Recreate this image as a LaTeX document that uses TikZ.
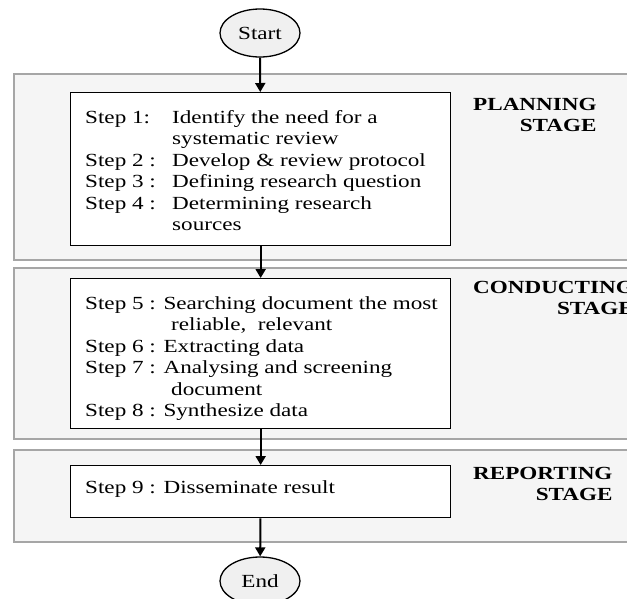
\documentclass[tikz,border=0pt]{standalone}
\usepackage{fontspec}
\setmainfont{Liberation Serif}[FakeStretch=1.25]
\usetikzlibrary{arrows.meta,shapes.geometric}
\newcommand{\bodyfont}{\fontsize{18.5}{21.5}\selectfont}
\begin{document}
\begin{tikzpicture}[x=1pt,y=-1pt,
  band/.style={draw=black!35, fill=black!4, line width=1.5pt, anchor=north west, inner sep=0pt},
  stepbox/.style={draw=black, fill=white, line width=1.3pt, anchor=north west, inner sep=0pt, minimum width=380pt},
  term/.style={ellipse, draw=black, fill=black!6, line width=1.3pt, minimum width=80pt, minimum height=48pt, inner sep=0pt, font=\bodyfont},
  txt/.style={anchor=base west, inner sep=0pt, font=\bodyfont},
  lbl/.style={anchor=base west, inner sep=0pt, font=\bodyfont\bfseries},
  lblb/.style={anchor=base east, inner sep=0pt, font=\bodyfont\bfseries},
  flow/.style={line width=2pt, -{Triangle[length=9pt,width=10pt]}}
]
\useasboundingbox (0,0) rectangle (627,598);
\clip (0,0) rectangle (627,598);
\fill[white] (0,0) rectangle (627,598);

% stage bands
\node[band, minimum width=627pt, minimum height=186pt] (bandP) at (13,73) {};
\node[band, minimum width=627pt, minimum height=171pt] (bandC) at (13,267) {};
\node[band, minimum width=627pt, minimum height=92pt] (bandR) at (13,449) {};

% step boxes
\node[stepbox, minimum height=153pt] (boxP) at (70,92) {};
\node[stepbox, minimum height=150pt] (boxC) at (70,278) {};
\node[stepbox, minimum height=52pt] (boxR) at (70,465) {};

% terminals
\node[term] (start) at (260,33) {Start};
\node[term] (end) at (260,581) {End};

% connectors
\draw[flow] (start) -- (boxP);
\draw[flow] (boxP) -- (boxC);
\draw[flow] (boxC) -- (boxR);
\draw[flow] (boxR) -- (end);

% planning text
\node[txt] (s1) at (85,123) {Step 1:};
\node[txt] (t1) at (172,123) {Identify the need for a};
\node[txt] (t1b) at (172,144.5) {systematic review};
\node[txt] (s2) at (85,166) {Step 2 :};
\node[txt] (t2) at (172,166) {Develop \& review protocol};
\node[txt] (s3) at (85,187.5) {Step 3 :};
\node[txt] (t3) at (172,187.5) {Defining research question};
\node[txt] (s4) at (85,209) {Step 4 :};
\node[txt] (t4) at (172,209) {Determining research};
\node[txt] (t4b) at (172,230.5) {sources};

% conducting text
\node[txt] (s5) at (85,309) {Step 5 : Searching document the most};
\node[txt] (t5b) at (171,330.5) {reliable,\ \ relevant};
\node[txt] (s6) at (85,352) {Step 6 : Extracting data};
\node[txt] (s7) at (85,373.5) {Step 7 : Analysing and screening};
\node[txt] (t7b) at (171,395) {document};
\node[txt] (s8) at (85,416.5) {Step 8 : Synthesize data};

% reporting text
\node[txt] (s9) at (85,493) {Step 9 : Disseminate result};

% stage labels
\node[lbl] (lp1) at (473,110) {PLANNING};
\node[lblb] (lp2) at ([yshift=-21.5pt]lp1.base east) {STAGE};
\node[lbl] (lc1) at (473,293) {CONDUCTING};
\node[lblb] (lc2) at ([yshift=-21.5pt]lc1.base east) {STAGE};
\node[lbl] (lr1) at (473,479) {REPORTING};
\node[lblb] (lr2) at ([yshift=-21.5pt]lr1.base east) {STAGE};
\end{tikzpicture}
\end{document}
